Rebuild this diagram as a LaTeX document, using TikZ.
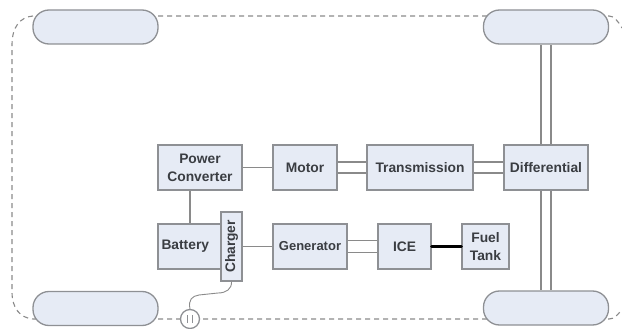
\documentclass[tikz,border=0pt]{standalone}
\usepackage{fontspec}
\setmainfont{Liberation Sans}
\definecolor{boxfill}{HTML}{E6EBF5}
\definecolor{boxline}{HTML}{8E9094}
\definecolor{txt}{HTML}{3A3D42}
\definecolor{wire}{HTML}{8A8A8A}
\tikzset{
  blk/.style={draw=boxline,fill=boxfill,line width=1.3pt,text=txt,font=\bfseries\fontsize{13.8}{18}\selectfont,align=center,inner sep=0pt,minimum height=45pt},
  wheel/.style={draw=boxline,fill=boxfill,line width=1.3pt,rounded corners=16pt,minimum width=125pt,minimum height=34pt,inner sep=0pt},
  wire/.style={draw=wire,line width=1.2pt},
  frame/.style={draw=wire,line width=1.1pt,dash pattern=on 5pt off 4pt},
}
\begin{document}
\begin{tikzpicture}[x=1pt,y=-1pt]
\useasboundingbox (0,0) rectangle (622,329);
\clip (0,0) rectangle (622,329);
% chassis
\draw[frame] (33,16) .. controls (20,17) and (12,27) .. (12,45) -- (12,292) .. controls (12,308) and (20,318) .. (33,319) -- (609,319) .. controls (614,319) and (618,315) .. (622,309);
\draw[frame] (158,16) -- (609,16) .. controls (614,16) and (618,21) .. (622,28);
% nodes
\node[wheel] (tl) at (95.5,27) {};
\node[wheel] (tr) at (546,27) {};
\node[wheel] (bl) at (95.5,308.5) {};
\node[wheel] (br) at (546,308) {};
\node[blk,minimum width=84pt] (pc) at (200,167.5) {Power\\Converter};
\node[blk,minimum width=64pt] (motor) at (305,167.5) {Motor};
\node[blk,minimum width=106pt] (trans) at (420,167.5) {Transmission};
\node[blk,minimum width=84pt] (diff) at (546,167.5) {Differential};
\node[blk,minimum width=64pt,text width=57pt,align=left] (batt) at (190,246.5) {Battery};
\node[blk,minimum width=21pt,minimum height=69pt] (chg) at (231.5,246.5) {\rotatebox{90}{Charger}};
\node[blk,minimum width=74pt,font=\bfseries\fontsize{13}{16}\selectfont] (gen) at (310,246.5) {Generator};
\node[blk,minimum width=53pt] (ice) at (404.5,246.5) {ICE};
\node[blk,minimum width=47pt] (fuel) at (485.5,246.5) {Fuel\\Tank};
\node[draw=boxline,fill=white,line width=1.3pt,circle,minimum size=19pt,inner sep=0pt] (plug) at (190,319) {};
\draw[draw=boxline,line width=1.3pt] ([xshift=-2.5pt,yshift=-4pt]plug.center) -- ([xshift=-2.5pt,yshift=4pt]plug.center)
  ([xshift=2.5pt,yshift=-4pt]plug.center) -- ([xshift=2.5pt,yshift=4pt]plug.center);
% connectors
\draw[wire] (pc.east) -- (motor.west);
\draw[wire] ([xshift=-10pt]pc.south) -- (batt.north);
\draw[wire] (chg.east) -- (gen.west);
\foreach \a/\b in {motor/trans,trans/diff}{
  \draw[wire] ([yshift=-5.5pt]\a.east) -- ([yshift=-5.5pt]\b.west);
  \draw[wire] ([yshift=5.5pt]\a.east) -- ([yshift=5.5pt]\b.west);
}
\draw[wire] ([yshift=-6pt]gen.east) -- ([yshift=-6pt]ice.west);
\draw[wire] ([yshift=6pt]gen.east) -- ([yshift=6pt]ice.west);
\draw[wire] ([xshift=-5pt]diff.north) -- ([xshift=-5pt]tr.south);
\draw[wire] ([xshift=5pt]diff.north) -- ([xshift=5pt]tr.south);
\draw[wire] ([xshift=-5pt]diff.south) -- ([xshift=-5pt]br.north);
\draw[wire] ([xshift=5pt]diff.south) -- ([xshift=5pt]br.north);
\draw[black,line width=3pt,line cap=round] (ice.east) -- (fuel.west);
\draw[wire,line width=0.9pt] (chg.south) .. controls (232,289) and (226,293) .. (218,293) -- (199,295) .. controls (192,296) and (188,300) .. (plug.north);
\end{tikzpicture}
\end{document}
